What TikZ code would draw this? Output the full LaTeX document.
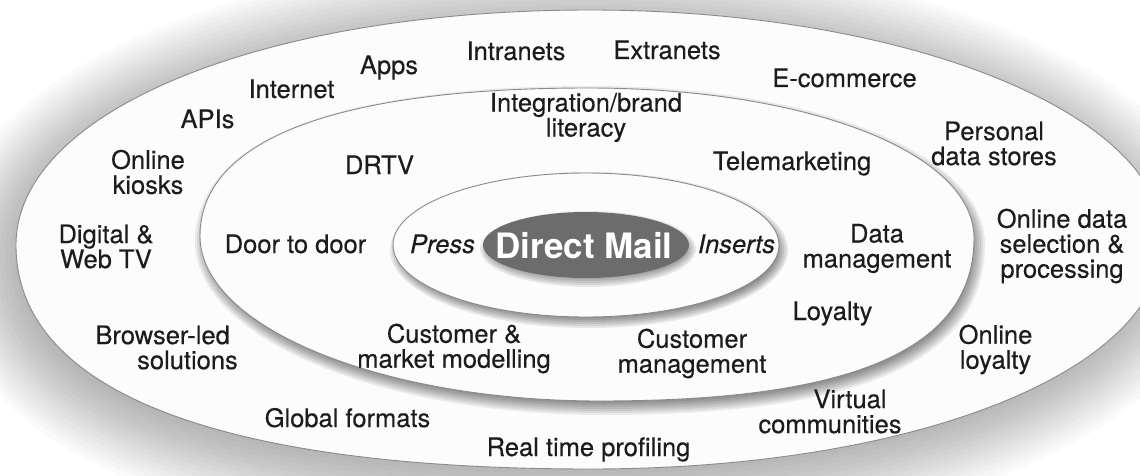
\documentclass[tikz,border=0pt]{standalone}
\usepackage{fontspec}
\setmainfont{TeX Gyre Heros}
\newfontfamily\labelfont[FakeBold=0.35]{TeX Gyre Heros}

% ring outlines, given relative to their centres; #1 pushes the outline outwards
\newcommand\outerring[1]{({-574-(#1)},5)
  .. controls ({-574-(#1)},{5-0.57*(235+(#1))}) and ({-0.57*(574+(#1))},{-230-(#1)}) .. (0,{-230-(#1)})
  .. controls ({0.552*(573+(#1))},{-230-(#1)}) and ({573+(#1)},{-0.552*(230+(#1))}) .. ({573+(#1)},0)
  .. controls ({573+(#1)},{0.57*(229+(#1))}) and ({0.57*(573+(#1))},{229+(#1)}) .. (0,{229+(#1)})
  .. controls ({-0.65*(574+(#1))},{229+(#1)}) and ({-574-(#1)},{5+0.65*(224+(#1))}) .. ({-574-(#1)},5) -- cycle}
\newcommand\middlering[1]{({-388-(#1)},-4)
  .. controls ({-388-(#1)},{-4-0.65*(148+(#1))}) and ({-0.65*(388+(#1))},{-152-(#1)}) .. (0,{-152-(#1)})
  .. controls ({0.57*(386+(#1))},{-152-(#1)}) and ({386+(#1)},{-2-0.57*(150+(#1))}) .. ({386+(#1)},-2)
  .. controls ({386+(#1)},{-2+0.68*(163+(#1))}) and ({12+0.68*(374+(#1))},{161+(#1)}) .. (12,{161+(#1)})
  .. controls ({12-0.55*(400+(#1))},{161+(#1)}) and ({-388-(#1)},{-4+0.55*(165+(#1))}) .. ({-388-(#1)},-4) -- cycle}

\begin{document}
\begin{tikzpicture}[x=1pt,y=-1pt,
  ringfill/.style={fill=ringwhite},
  ringline/.style={draw=edgegray,line width=0.9pt},
  lbl/.style={font=\labelfont\fontsize{25.5}{25}\selectfont,text=inkgray,inner sep=0pt,align=center},
  ital/.style={lbl,font=\labelfont\fontsize{25.5}{25}\selectfont\itshape}]
\definecolor{ringwhite}{HTML}{FCFCFC}
\definecolor{edgegray}{HTML}{8A8A8A}
\definecolor{inkgray}{HTML}{1C1C1C}
\definecolor{coregray}{HTML}{6C6C6C}

\useasboundingbox (0,0) rectangle (1140,476);
\fill[white] (0,0) rectangle (1140,476);

% outer ring with its wide soft shadow
\begin{scope}[shift={(584,250)}]
  \foreach \dd in {65,60,...,-20} {\fill[black,opacity=0.018] \outerring{\dd};}
\end{scope}
\begin{scope}[shift={(590,240)}]
  \fill[ringfill] \outerring{0};
  \draw[ringline] \outerring{0};
\end{scope}

% middle ring
\begin{scope}[shift={(591,246)}]
  \foreach \dd in {8,6,...,-8} {\fill[black,opacity=0.07] \middlering{\dd};}
\end{scope}
\begin{scope}[shift={(588,240)}]
  \fill[ringfill] \middlering{0};
  \draw[ringline] \middlering{0};
\end{scope}

% inner ring
\foreach \dd in {6,4,...,-6}
  {\fill[black,opacity=0.085] (589,250) ellipse [x radius={193pt+\dd pt}, y radius={72pt+\dd pt}];}
\fill[ringfill] (586,245) ellipse [x radius=193pt, y radius=72pt];
\draw[ringline] (586,245) ellipse [x radius=193pt, y radius=72pt];

% dark core
\foreach \dd in {5,3,...,-5}
  {\fill[black,opacity=0.08] (588,249) ellipse [x radius={103pt+\dd pt}, y radius={33pt+\dd pt}];}
\fill[coregray] (586,245) ellipse [x radius=103pt, y radius=33pt];

% core labels
\node[lbl,anchor=base,text=white,font=\fontsize{35}{38}\selectfont\bfseries] (dm) at (584,258) {Direct Mail};
\node[ital,anchor=base] (press) at (442.5,253) {Press};
\node[ital,anchor=base] (inserts) at (736.5,253) {Inserts};

% inner ring labels
\node[lbl,anchor=base] (door) at (295.5,253) {Door to door};
\node[lbl,anchor=base] (drtv) at (379.5,174) {DRTV};
\node[lbl] (integ) at (586,117.5) {Integration/brand\\literacy};
\node[lbl,anchor=base] (tele) at (792,170) {Telemarketing};
\node[lbl] (datam) at (877,248.5) {Data\\management};
\node[lbl,anchor=base] (loyal) at (832.5,320) {Loyalty};
\node[lbl] (custm) at (692,353.5) {Customer\\management};
\node[lbl] (model) at (454,348.5) {Customer \&\\market modelling};

% outer ring labels
\node[lbl,anchor=base] (intra) at (516,60) {Intranets};
\node[lbl,anchor=base] (extra) at (667,59) {Extranets};
\node[lbl,anchor=base] (apps) at (389,74) {Apps};
\node[lbl,anchor=base] (inet) at (291.5,98) {Internet};
\node[lbl,anchor=base] (apis) at (207.5,128) {APIs};
\node[lbl] (kiosk) at (148,172) {Online\\kiosks};
\node[lbl] (webtv) at (106,246.5) {Digital \&\\Web TV};
\node[lbl,anchor=east,align=right] (browser) at (238,347.5) {Browser-led\kern8pt\\solutions};
\node[lbl,anchor=base] (global) at (347.5,427) {Global formats};
\node[lbl,anchor=base] (rtp) at (588.5,456) {Real time profiling};
\node[lbl] (virt) at (830,411.5) {\kern40pt Virtual\\communities};
\node[lbl] (oloy) at (995.5,349.5) {Online\\loyalty};
\node[lbl] (odata) at (1062,246) {Online data\\selection \&\\processing};
\node[lbl] (pds) at (994,143.5) {Personal\\data stores};
\node[lbl,anchor=base] (ecom) at (844.5,87) {E-commerce};
\end{tikzpicture}
\end{document}
